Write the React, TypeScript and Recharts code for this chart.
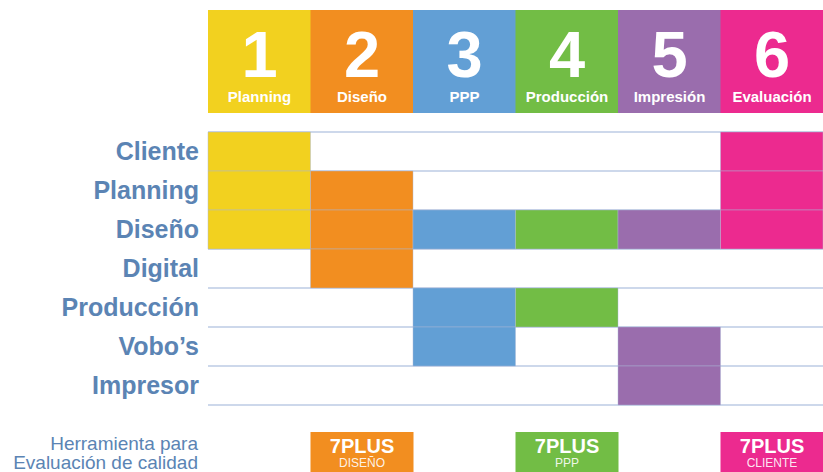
import { Bar, BarChart, CartesianGrid, Cell, LabelList, XAxis, YAxis } from 'recharts';

const phases = ['Planning', 'Diseño', 'PPP', 'Producción', 'Impresión', 'Evaluación'];
const phaseNumbers = ['1', '2', '3', '4', '5', '6'];
const phaseColors = ['#f2d11f', '#f28e20', '#629fd5', '#72bd45', '#9a6dad', '#ec2a8f'];

const roles = ['Cliente', 'Planning', 'Diseño', 'Digital', 'Producción', 'Vobo’s', 'Impresor'];

// 1 = role takes part in that phase (one list per phase, in role order)
const planningRoles = [1, 1, 1, 0, 0, 0, 0];
const disenoRoles = [0, 1, 1, 1, 0, 0, 0];
const pppRoles = [0, 0, 1, 0, 1, 1, 0];
const produccionRoles = [0, 0, 1, 0, 1, 0, 0];
const impresionRoles = [0, 0, 1, 0, 0, 1, 1];
const evaluacionRoles = [1, 1, 1, 0, 0, 0, 0];
const participation = [planningRoles, disenoRoles, pppRoles, produccionRoles, impresionRoles, evaluacionRoles];

// each phase spans one unit on the x scale
const phaseSpan = [1, 1, 1, 1, 1, 1];

const qualityTools = ['', 'DISEÑO', '', 'PPP', '', 'CLIENTE'];

const LABEL_BLUE = '#5b84b4';
const GRID = '#bccbe4';
const W = 823;

const gridData = roles.map((role) => {
  const row: Record<string, string | number> = { role };
  phases.forEach((_, p) => {
    row[`p${p}`] = phaseSpan[p];
  });
  return row;
});

const headerData = phases.map((name, i) => ({ name, num: phaseNumbers[i], box: phaseSpan[i] }));
const toolData = phases.map((name, i) => ({ name, tool: qualityTools[i], box: qualityTools[i] ? 1 : 0 }));

const HeaderLabel = (props: any) => {
  const { x, y, width, value } = props;
  const i = phases.indexOf(value);
  const cx = x + width / 2;
  return (
    <g fontFamily="'Liberation Sans', Arial, sans-serif" fontWeight={700} fill="#fff" textAnchor="middle">
      <text x={cx} y={y + 67} fontSize={65}>{phaseNumbers[i]}</text>
      <text x={cx} y={y + 91.5} fontSize={15}>{value}</text>
    </g>
  );
};

const ToolLabel = (props: any) => {
  const { x, y, width, value } = props;
  if (!value) return null;
  const cx = x + width / 2;
  return (
    <g fill="#fff" textAnchor="middle">
      <text x={cx} y={y + 21} fontSize={20} fontWeight={700} fontFamily="'Liberation Sans Narrow', 'Liberation Sans', Arial, sans-serif">
        7PLUS
      </text>
      <text x={cx} y={y + 35} fontSize={12} fontFamily="'Liberation Sans', Arial, sans-serif" fillOpacity={0.9}>
        {value}
      </text>
    </g>
  );
};

const App = () => {
  return (
    <div style={{ position: 'absolute', left: 0, top: 0, width: W, height: 472, overflow: 'hidden', background: '#fff' }}>
      <div style={{ position: 'absolute', left: 0, top: 0 }}>
        <BarChart width={W} height={113} data={headerData} margin={{ top: 10, right: 0, bottom: 0, left: 208 }} barCategoryGap={0}>
          <XAxis dataKey="name" hide />
          <YAxis hide domain={[0, 1]} />
          <Bar dataKey="box" isAnimationActive={false}>
            {headerData.map((d, i) => (
              <Cell key={d.name} fill={phaseColors[i]} />
            ))}
            <LabelList dataKey="name" content={HeaderLabel} />
          </Bar>
        </BarChart>
      </div>

      <div style={{ position: 'absolute', left: 0, top: 122 }}>
        <BarChart
          width={W}
          height={293}
          data={gridData}
          layout="vertical"
          margin={{ top: 10, right: 0, bottom: 10, left: 0 }}
          barCategoryGap={0}
        >
          <CartesianGrid
            vertical={false}
            stroke={GRID}
            strokeWidth={1.5}
            horizontalCoordinatesGenerator={({ offset }: any) =>
              Array.from({ length: roles.length + 1 }, (_, i) => offset.top + (i * offset.height) / roles.length)
            }
          />
          <XAxis type="number" domain={[0, phases.length]} hide />
          <YAxis
            type="category"
            dataKey="role"
            width={208}
            axisLine={false}
            tickLine={false}
            tickSize={0}
            tickMargin={9}
            interval={0}
            tick={{ fill: LABEL_BLUE, fontSize: 25, fontWeight: 700, fontFamily: "'Liberation Sans', Arial, sans-serif" }}
          />
          {phases.map((name, p) => (
            <Bar key={name} dataKey={`p${p}`} stackId="grid" isAnimationActive={false}>
              {roles.map((role, r) => (
                <Cell
                  key={role}
                  fill={participation[p][r] ? phaseColors[p] : 'transparent'}
                  stroke={participation[p][r] ? 'rgba(170,185,215,0.45)' : 'none'}
                  strokeWidth={1}
                />
              ))}
            </Bar>
          ))}
        </BarChart>
      </div>

      <div
        style={{
          position: 'absolute',
          left: 0,
          top: 434,
          width: 198,
          textAlign: 'right',
          color: LABEL_BLUE,
          fontFamily: "'Liberation Sans', Arial, sans-serif",
          fontSize: 19,
          lineHeight: '19px',
          fontWeight: 300,
        }}
      >
        Herramienta para
        <br />
        Evaluación de calidad
      </div>

      <div style={{ position: 'absolute', left: 0, top: 422 }}>
        <BarChart width={W} height={60} data={toolData} margin={{ top: 10, right: 0, bottom: 0, left: 208 }} barCategoryGap={0}>
          <XAxis dataKey="name" hide />
          <YAxis hide domain={[0, 1]} />
          <Bar dataKey="box" isAnimationActive={false}>
            {toolData.map((d, i) => (
              <Cell key={d.name} fill={phaseColors[i]} />
            ))}
            <LabelList dataKey="tool" content={ToolLabel} />
          </Bar>
        </BarChart>
      </div>
    </div>
  );
};

export default App;
